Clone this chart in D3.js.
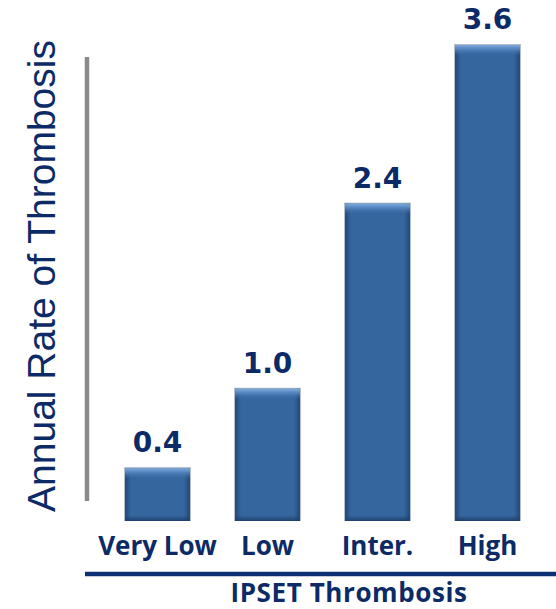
<!DOCTYPE html>
<html>
<head>
<meta charset="utf-8">
<script src="https://cdn.jsdelivr.net/npm/d3@7"></script>
<style>
  body { margin: 0; background: #fff; }
  svg { display: block; }
</style>
</head>
<body>
<div id="chart"></div>
<script>
/* DATA */
const categories = ["Very Low", "Low", "Inter.", "High"];
const rates = [0.4, 1.0, 2.4, 3.6];
const valueLabels = ["0.4", "1.0", "2.4", "3.6"];
const yTitle = "Annual Rate of Thrombosis";
const xTitle = "IPSET Thrombosis";

/* CONSTANTS */
const width = 556, height = 609;
const navy = "#0b2a66";
const baseY = 521;

const svg = d3.select("#chart").append("svg")
  .attr("width", width)
  .attr("height", height);

// small gradients for the bevel edges of the bars
const defs = svg.append("defs");
function grad(id, vertical, stops) {
  const g = defs.append("linearGradient").attr("id", id)
    .attr("x1", 0).attr("y1", 0)
    .attr("x2", vertical ? 0 : 1).attr("y2", vertical ? 1 : 0);
  stops.forEach(s => g.append("stop")
    .attr("offset", s[0]).attr("stop-color", s[1]).attr("stop-opacity", s[2] ?? 1));
}
grad("bevTop", true, [[0, "#7ea8da"], [0.35, "#5687c1"], [1, "#3868a1", 0]]);
grad("bevBot", true, [[0, "#22487a", 0], [1, "#1d3f6d"]]);
grad("bevL", false, [[0, "#1e4272", 0.85], [1, "#1e4272", 0]]);
grad("bevR", false, [[0, "#1e4272", 0], [1, "#1e4272", 0.85]]);

// SCALES
const xScale = d3.scaleBand()
  .domain(categories)
  .range([102.5, 542.5])
  .paddingInner(0.41)
  .paddingOuter(0.205);

const yScale = d3.scaleLinear()
  .domain([0, 3.6])
  .range([baseY, 45]);

const data = categories.map((c, i) => ({ cat: c, value: rates[i], label: valueLabels[i] }));

// y axis: plain gray rule
svg.append("line")
  .attr("x1", 87).attr("x2", 87)
  .attr("y1", 57).attr("y2", 501)
  .attr("stroke", "#8a8a8a")
  .attr("stroke-width", 4.5);

svg.append("text")
  .attr("transform", `translate(55, ${(40 + 512) / 2}) rotate(-90)`)
  .attr("text-anchor", "middle")
  .attr("font-family", "'Liberation Sans', Arial, sans-serif")
  .attr("font-size", 39)
  .attr("fill", navy)
  .text(yTitle);

// bars
const bw = xScale.bandwidth();
const bars = svg.selectAll(".bar")
  .data(data)
  .join("g")
  .attr("class", "bar")
  .attr("transform", d => `translate(${xScale(d.cat)}, ${yScale(d.value)})`);

const barH = d => baseY - yScale(d.value);

bars.append("rect")
  .attr("x", -1).attr("y", -1)
  .attr("width", bw + 2)
  .attr("height", d => barH(d) + 1)
  .attr("fill", "#b4bcc6");

bars.append("rect")
  .attr("width", bw)
  .attr("height", barH)
  .attr("fill", "#35669e");

bars.append("rect")
  .attr("width", 6)
  .attr("height", barH)
  .attr("fill", "url(#bevL)");

bars.append("rect")
  .attr("x", bw - 6)
  .attr("width", 6)
  .attr("height", barH)
  .attr("fill", "url(#bevR)");

bars.append("rect")
  .attr("width", bw)
  .attr("height", 11)
  .attr("fill", "url(#bevTop)");

bars.append("rect")
  .attr("y", d => barH(d) - 6)
  .attr("width", bw)
  .attr("height", 6)
  .attr("fill", "url(#bevBot)");

// value labels
bars.append("text")
  .attr("x", bw / 2)
  .attr("y", -16)
  .attr("text-anchor", "middle")
  .attr("font-family", "'DejaVu Sans', Verdana, sans-serif")
  .attr("font-weight", "bold")
  .attr("font-size", 28)
  .attr("fill", navy)
  .text(d => d.label);

// category labels
svg.selectAll(".cat")
  .data(categories)
  .join("text")
  .attr("class", "cat")
  .attr("x", d => xScale(d) + bw / 2)
  .attr("y", 555)
  .attr("text-anchor", "middle")
  .attr("font-family", "'Open Sans', sans-serif")
  .attr("font-weight", "bold")
  .attr("font-size", 26)
  .attr("fill", navy)
  .text(d => d);

// bottom rule and title
svg.append("line")
  .attr("x1", 85).attr("x2", width)
  .attr("y1", 574).attr("y2", 574)
  .attr("stroke", "#0d2f73")
  .attr("stroke-width", 4.5);

svg.append("text")
  .attr("x", 349)
  .attr("y", 602)
  .attr("text-anchor", "middle")
  .attr("font-family", "'Open Sans', sans-serif")
  .attr("font-weight", "bold")
  .attr("font-size", 26)
  .attr("letter-spacing", 0.6)
  .attr("fill", navy)
  .text(xTitle);
</script>
</body>
</html>
